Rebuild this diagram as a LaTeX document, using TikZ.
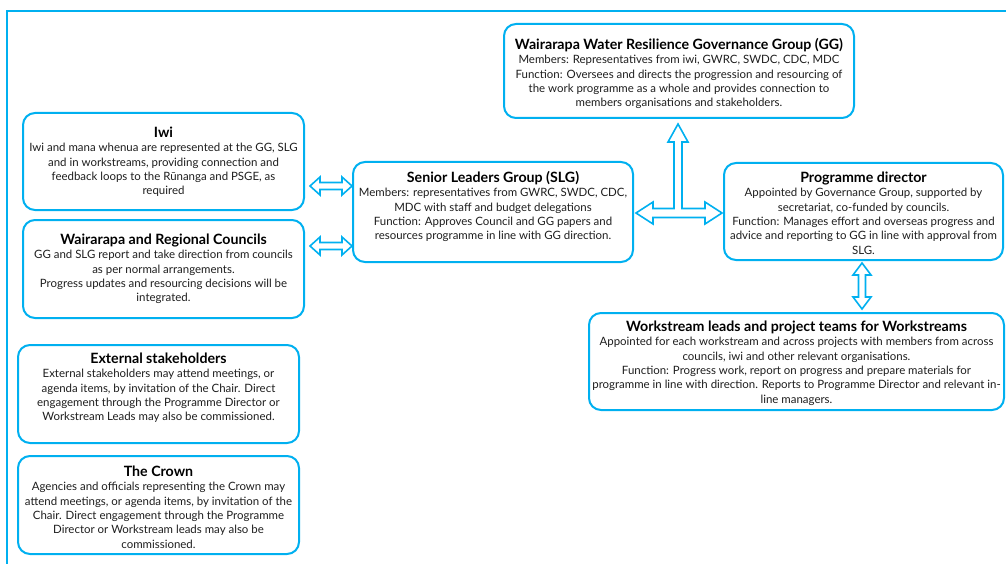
\documentclass[tikz,border=0pt]{standalone}
\usepackage{fontspec}
\setmainfont{Lato}
\definecolor{bl}{RGB}{0,176,240}
\definecolor{tx}{RGB}{30,30,30}
\begin{document}
\begin{tikzpicture}[x=1pt,y=-1pt,
  box/.style={draw=bl, line width=2pt, rounded corners=12pt, fill=white, inner sep=0pt},
  txt/.style={align=center, inner sep=0pt, anchor=north, text=tx, font=\fontsize{11.45}{14.4}\selectfont},
  arr/.style={draw=bl, line width=1.6pt, fill=white, line join=miter}]
\useasboundingbox (0,0) rectangle (1006,564);
\newcommand\hd[1]{{\fontsize{14.2}{14.4}\selectfont\bfseries\color{black}\rule{0pt}{11pt}#1}}
\draw[bl, line width=1.5pt] (7,564) -- (7,11) -- (1006,11);
% boxes
\node[box, minimum width=350, minimum height=94] (gg) at (679,71) {};
\node[box, minimum width=281, minimum height=97] (iwi) at (163.5,161.5) {};
\node[box, minimum width=281, minimum height=98] (cou) at (163.5,269) {};
\node[box, minimum width=280, minimum height=100] (slg) at (493,212) {};
\node[box, minimum width=279, minimum height=97] (pd) at (863.5,211.5) {};
\node[box, minimum width=415, minimum height=97] (ws) at (796.5,361.5) {};
\node[box, minimum width=281, minimum height=98] (ext) at (158.5,394) {};
\node[box, minimum width=281, minimum height=98] (crw) at (158.5,505) {};
% texts
\node[txt] (ggt) at (679,38) {\hd{Wairarapa Water Resilience Governance Group (GG)}\\
Members: Representatives from iwi, GWRC, SWDC, CDC, MDC\\
Function: Oversees and directs the progression and resourcing of\\
the work programme as a whole and provides connection to\\
members organisations and stakeholders.};
\node[txt] (iwit) at (163.5,126) {\hd{Iwi}\\
Iwi and mana whenua are represented at the GG, SLG\\
and in workstreams, providing connection and\\
feedback loops to the Rūnanga and PSGE, as\\
required};
\node[txt] (cout) at (163.5,233) {\hd{Wairarapa and Regional Councils}\\
GG and SLG report and take direction from councils\\
as per normal arrangements.\\
Progress updates and resourcing decisions will be\\
integrated.};
\node[txt] (slgt) at (493,171) {\hd{Senior Leaders Group (SLG)}\\
Members: representatives from GWRC, SWDC, CDC,\\
MDC with staff and budget delegations\\
Function: Approves Council and GG papers and\\
resources programme in line with GG direction.};
\node[txt] (pdt) at (863.5,171) {\hd{Programme director}\\
Appointed by Governance Group, supported by\\
secretariat, co-funded by councils.\\
Function: Manages effort and overseas progress and\\
advice and reporting to GG in line with approval from\\
SLG.};
\node[txt] (wst) at (796.5,320) {\hd{Workstream leads and project teams for Workstreams}\\
Appointed for each workstream and across projects with members from across\\
councils, iwi and other relevant organisations.\\
Function: Progress work, report on progress and prepare materials for\\
programme in line with direction. Reports to Programme Director and relevant in-\\
line managers.};
\node[txt] (extt) at (158.5,352) {\hd{External stakeholders}\\
External stakeholders may attend meetings, or\\
agenda items, by invitation of the Chair. Direct\\
engagement through the Programme Director or\\
Workstream Leads may also be commissioned.};
\node[txt] (crwt) at (158.5,465) {\hd{The Crown}\\
Agencies and officials representing the Crown may\\
attend meetings, or agenda items, by invitation of the\\
Chair. Direct engagement through the Programme\\
Director or Workstream leads may also be\\
commissioned.};
% arrows
\path[arr] (310,186) -- (320,177) -- (320,182.5) -- (342,182.5) -- (342,177) -- (352,186) -- (342,195) -- (342,189.5) -- (320,189.5) -- (320,195) -- cycle;
\path[arr] (310,246) -- (320,237) -- (320,242.5) -- (342,242.5) -- (342,237) -- (352,246) -- (342,255) -- (342,249.5) -- (320,249.5) -- (320,255) -- cycle;
\path[arr] (636,213) -- (653,202) -- (653,208.5) -- (674,208.5) -- (674,142) -- (668,142) -- (678,124) -- (688,142) -- (682,142) -- (682,208.5) -- (705,208.5) -- (705,202) -- (722,213) -- (705,224) -- (705,217.5) -- (653,217.5) -- (653,224) -- cycle;
\path[arr] (862,263) -- (871,275) -- (865.5,275) -- (865.5,297) -- (871,297) -- (862,309) -- (853,297) -- (858.5,297) -- (858.5,275) -- (853,275) -- cycle;
\end{tikzpicture}
\end{document}
